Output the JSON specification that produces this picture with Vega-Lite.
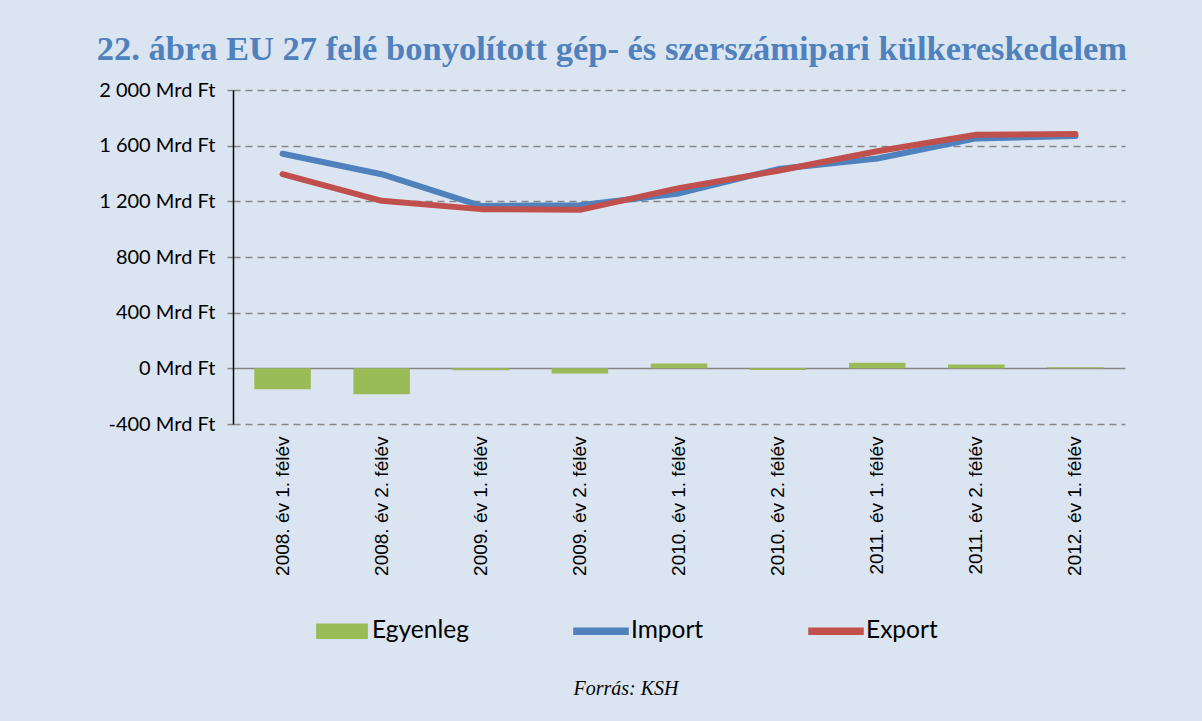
{
  "$schema": "https://vega.github.io/schema/vega-lite/v6.json",
  "width": 892,
  "height": 334,
  "autosize": {"type": "none"},
  "padding": {"left": 233, "top": 90, "right": 77, "bottom": 297},
  "background": "#DBE5F1",
  "view": {"stroke": null},
  "title": {
    "text": "22. ábra EU 27 felé bonyolított gép- és szerszámipari külkereskedelem",
    "anchor": "middle",
    "frame": "bounds",
    "font": "Liberation Serif",
    "fontSize": 34.5,
    "fontWeight": "bold",
    "color": "#4F81BD",
    "offset": 13
  },
  "data": {
    "values": [
      {"period": "2008. év 1. félév", "series": "Egyenleg", "value": -151},
      {"period": "2008. év 2. félév", "series": "Egyenleg", "value": -187},
      {"period": "2009. év 1. félév", "series": "Egyenleg", "value": -14},
      {"period": "2009. év 2. félév", "series": "Egyenleg", "value": -38},
      {"period": "2010. év 1. félév", "series": "Egyenleg", "value": 34},
      {"period": "2010. év 2. félév", "series": "Egyenleg", "value": -12},
      {"period": "2011. év 1. félév", "series": "Egyenleg", "value": 41},
      {"period": "2011. év 2. félév", "series": "Egyenleg", "value": 28},
      {"period": "2012. év 1. félév", "series": "Egyenleg", "value": 7},
      {"period": "2008. év 1. félév", "series": "Import", "value": 1542},
      {"period": "2008. év 2. félév", "series": "Import", "value": 1395},
      {"period": "2009. év 1. félév", "series": "Import", "value": 1167},
      {"period": "2009. év 2. félév", "series": "Import", "value": 1172},
      {"period": "2010. év 1. félév", "series": "Import", "value": 1257},
      {"period": "2010. év 2. félév", "series": "Import", "value": 1432},
      {"period": "2011. év 1. félév", "series": "Import", "value": 1508},
      {"period": "2011. év 2. félév", "series": "Import", "value": 1652},
      {"period": "2012. év 1. félév", "series": "Import", "value": 1670},
      {"period": "2008. év 1. félév", "series": "Export", "value": 1395},
      {"period": "2008. év 2. félév", "series": "Export", "value": 1204},
      {"period": "2009. év 1. félév", "series": "Export", "value": 1144},
      {"period": "2009. év 2. félév", "series": "Export", "value": 1139},
      {"period": "2010. év 1. félév", "series": "Export", "value": 1295},
      {"period": "2010. év 2. félév", "series": "Export", "value": 1420},
      {"period": "2011. év 1. félév", "series": "Export", "value": 1560},
      {"period": "2011. év 2. félév", "series": "Export", "value": 1678},
      {"period": "2012. év 1. félév", "series": "Export", "value": 1683}
    ]
  },
  "encoding": {
    "x": {
      "field": "period",
      "type": "nominal",
      "sort": null,
      "scale": {"paddingInner": 0.43, "paddingOuter": 0.215},
      "axis": {
        "title": null,
        "labelAngle": -90,
        "domain": false,
        "ticks": false,
        "labelPadding": 12,
        "labelFont": "Liberation Sans",
        "labelFontSize": 19,
        "labelColor": "#000000",
        "labelAlign": "right",
        "labelBaseline": "middle"
      }
    }
  },
  "layer": [
    {
      "transform": [{"filter": "datum.series === 'Egyenleg'"}],
      "mark": {"type": "bar"},
      "encoding": {
        "y": {
          "field": "value",
          "type": "quantitative",
          "scale": {"domain": [-400, 2000], "nice": false, "zero": false},
          "axis": {
            "title": null,
            "values": [-400, 0, 400, 800, 1200, 1600, 2000],
            "labelExpr": "(datum.value >= 1000 ? floor(datum.value / 1000) + ' ' + format(datum.value % 1000, '03d') : '' + datum.value) + ' Mrd Ft'",
            "domainColor": "#000000",
            "domainWidth": 1.5,
            "tickColor": "#868686",
            "tickSize": 6,
            "tickWidth": 1.5,
            "grid": true,
            "gridColor": "#868686",
            "gridWidth": 1.5,
            "gridDash": {"condition": {"test": "datum.value === 0", "value": []}, "value": [7, 5]},
            "labelFont": "Lato",
            "labelFontSize": 20,
            "labelColor": "#000000",
            "labelPadding": 12
          }
        },
        "color": {
          "field": "series",
          "type": "nominal",
          "scale": {"domain": ["Egyenleg", "Import", "Export"], "range": ["#9BBB59", "#4F81BD", "#C0504D"]},
          "legend": {
            "orient": "none",
            "legendX": 81,
            "legendY": 513,
            "direction": "horizontal",
            "columns": 3,
            "columnPadding": 102,
            "title": "Forrás: KSH",
            "titleOrient": "bottom",
            "titleAnchor": "middle",
            "titleFont": "Liberation Serif",
            "titleFontStyle": "italic",
            "titleFontWeight": "normal",
            "titleFontSize": 20,
            "titleColor": "#000000",
            "titlePadding": 36,
            "labelFont": "Lato",
            "labelFontSize": 24.5,
            "labelColor": "#000000",
            "labelOffset": 2,
            "symbolSize": 2916,
            "encode": {
              "symbols": {
                "update": {
                  "shape": {"signal": "datum.value === 'Egyenleg' ? 'M-0.93,-0.26L0.93,-0.26L0.93,0.26L-0.93,0.26Z' : 'M-1,-0.11L1,-0.11L1,0.11L-1,0.11Z'"},
                  "fill": {"scale": "color", "field": "value"},
                  "stroke": {"value": "transparent"},
                  "opacity": {"value": 1}
                }
              }
            }
          }
        }
      }
    },
    {
      "transform": [{"filter": "datum.series !== 'Egyenleg'"}],
      "mark": {"type": "line", "strokeWidth": 6, "strokeCap": "round", "strokeJoin": "round"},
      "encoding": {
        "y": {"field": "value", "type": "quantitative"},
        "color": {"field": "series", "type": "nominal"}
      }
    }
  ]
}
